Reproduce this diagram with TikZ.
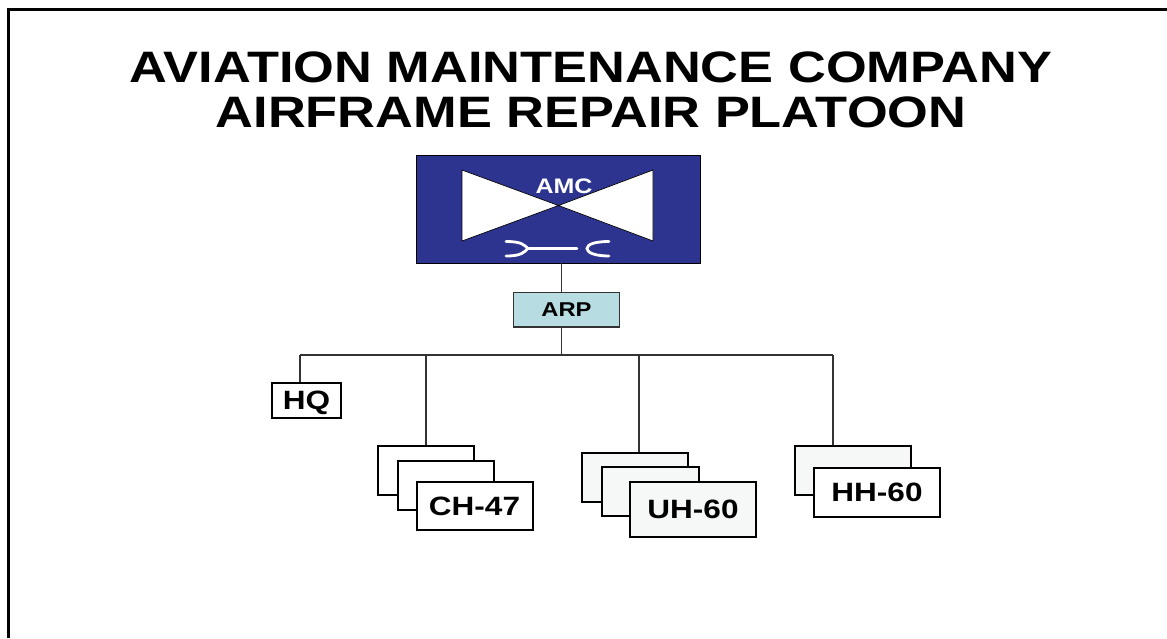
\documentclass[tikz,border=0pt]{standalone}
\usepackage{fontspec}
\setmainfont{Liberation Sans}[FakeStretch=1.19]
\usepackage{tikz}
\usetikzlibrary{positioning}

\definecolor{amcblue}{HTML}{2D3490}
\definecolor{arpteal}{HTML}{B7DDE2}
\definecolor{palegrey}{HTML}{F5F8F7}

\begin{document}
\begin{tikzpicture}[
    x=1pt, y=-1pt,
    box/.style={rectangle, draw, line width=2pt, inner sep=0pt, fill=white, align=center, text depth=0pt, font=\fontsize{26.5}{26.5}\selectfont\bfseries},
    stack/.style={box, fill=palegrey},
    link/.style={draw=black!80, line width=1.2pt},
    wrench/.style={white, line width=2.8pt, line cap=round}
]
    \useasboundingbox (0,0) rectangle (1167,638);
    \draw[line width=3pt] (8.5,638) -- (8.5,9.5) -- (1167,9.5);

    \node[align=center, font=\fontsize{44}{45}\selectfont\bfseries] (title) at (591,90) {AVIATION MAINTENANCE COMPANY\\AIRFRAME REPAIR PLATOON};

    % top of the chart
    \node[draw=black, line width=0.8pt, fill=amcblue, minimum width=284pt, minimum height=108pt, inner sep=0pt] (amc) at (558,209) {};
    \coordinate (waist) at (558.5,205.5);
    \draw[fill=white, line width=0.7pt] (462,170) -- (waist) -- (462,241) -- cycle;
    \draw[fill=white, line width=0.7pt] (653,170) -- (waist) -- (653,241) -- cycle;
    \node[text=white, font=\fontsize{21}{21}\selectfont\bfseries] (amclabel) at (564,186) {AMC};
    \draw[wrench] (506,241.5) .. controls (522,241.5) and (524,245) .. (528,248.5) .. controls (524,252) and (522,256) .. (506,256);
    \draw[wrench] (528,248.5) -- (577,248.5);
    \draw[wrench] (609,241.5) .. controls (596,241.5) and (587,244) .. (587,248.5) .. controls (587,253) and (596,256) .. (609,256);

    \node[box, draw=black!80, line width=1.2pt, fill=arpteal, minimum width=106pt, minimum height=34.5pt, font=\fontsize{20}{20}\selectfont\bfseries, below=28.5pt of amc, xshift=8.5pt] (arp) {ARP};

    % bus and drops
    \coordinate (busleft) at (300,355);
    \coordinate (busright) at (833,355);
    \coordinate (trunk) at (561.5,355);
    \coordinate (tapch) at (426,355);
    \coordinate (tapuh) at (639,355);

    \node[box, minimum width=69pt, minimum height=35pt, anchor=north west] (hq) at (271,382) {HQ};

    \node[box, minimum width=96pt, minimum height=49pt, anchor=north west] (chback) at (377,445) {};
    \node[box, minimum width=96pt, minimum height=49pt, below right=14.5pt and 19.5pt of chback.north west] (chmid) {};
    \node[box, minimum width=116pt, minimum height=48.5pt, below right=21pt and 19pt of chmid.north west] (chfront) {CH-47};

    \node[stack, minimum width=106pt, minimum height=48.5pt, anchor=north west] (uhback) at (581,452) {};
    \node[stack, minimum width=97pt, minimum height=49pt, below right=14pt and 19.5pt of uhback.north west] (uhmid) {};
    \node[stack, minimum width=126pt, minimum height=55.5pt, below right=14.5pt and 28.5pt of uhmid.north west] (uhfront) {UH-60};

    \node[stack, minimum width=116pt, minimum height=49pt, anchor=north west] (hhback) at (794,445) {};
    \node[box, minimum width=126pt, minimum height=49pt, below right=21.5pt and 19pt of hhback.north west] (hhfront) {HH-60};

    \draw[link] (amc.south -| trunk) -- (arp.north -| trunk);
    \draw[link] (arp.south -| trunk) -- (trunk);
    \draw[link] (busleft) -- (busright);
    \draw[link] (busleft) -- (hq.north -| busleft);
    \draw[link] (tapch) -- (chback.north -| tapch);
    \draw[link] (tapuh) -- (uhback.north -| tapuh);
    \draw[link] (busright) -- (hhback.north -| busright);
\end{tikzpicture}
\end{document}
